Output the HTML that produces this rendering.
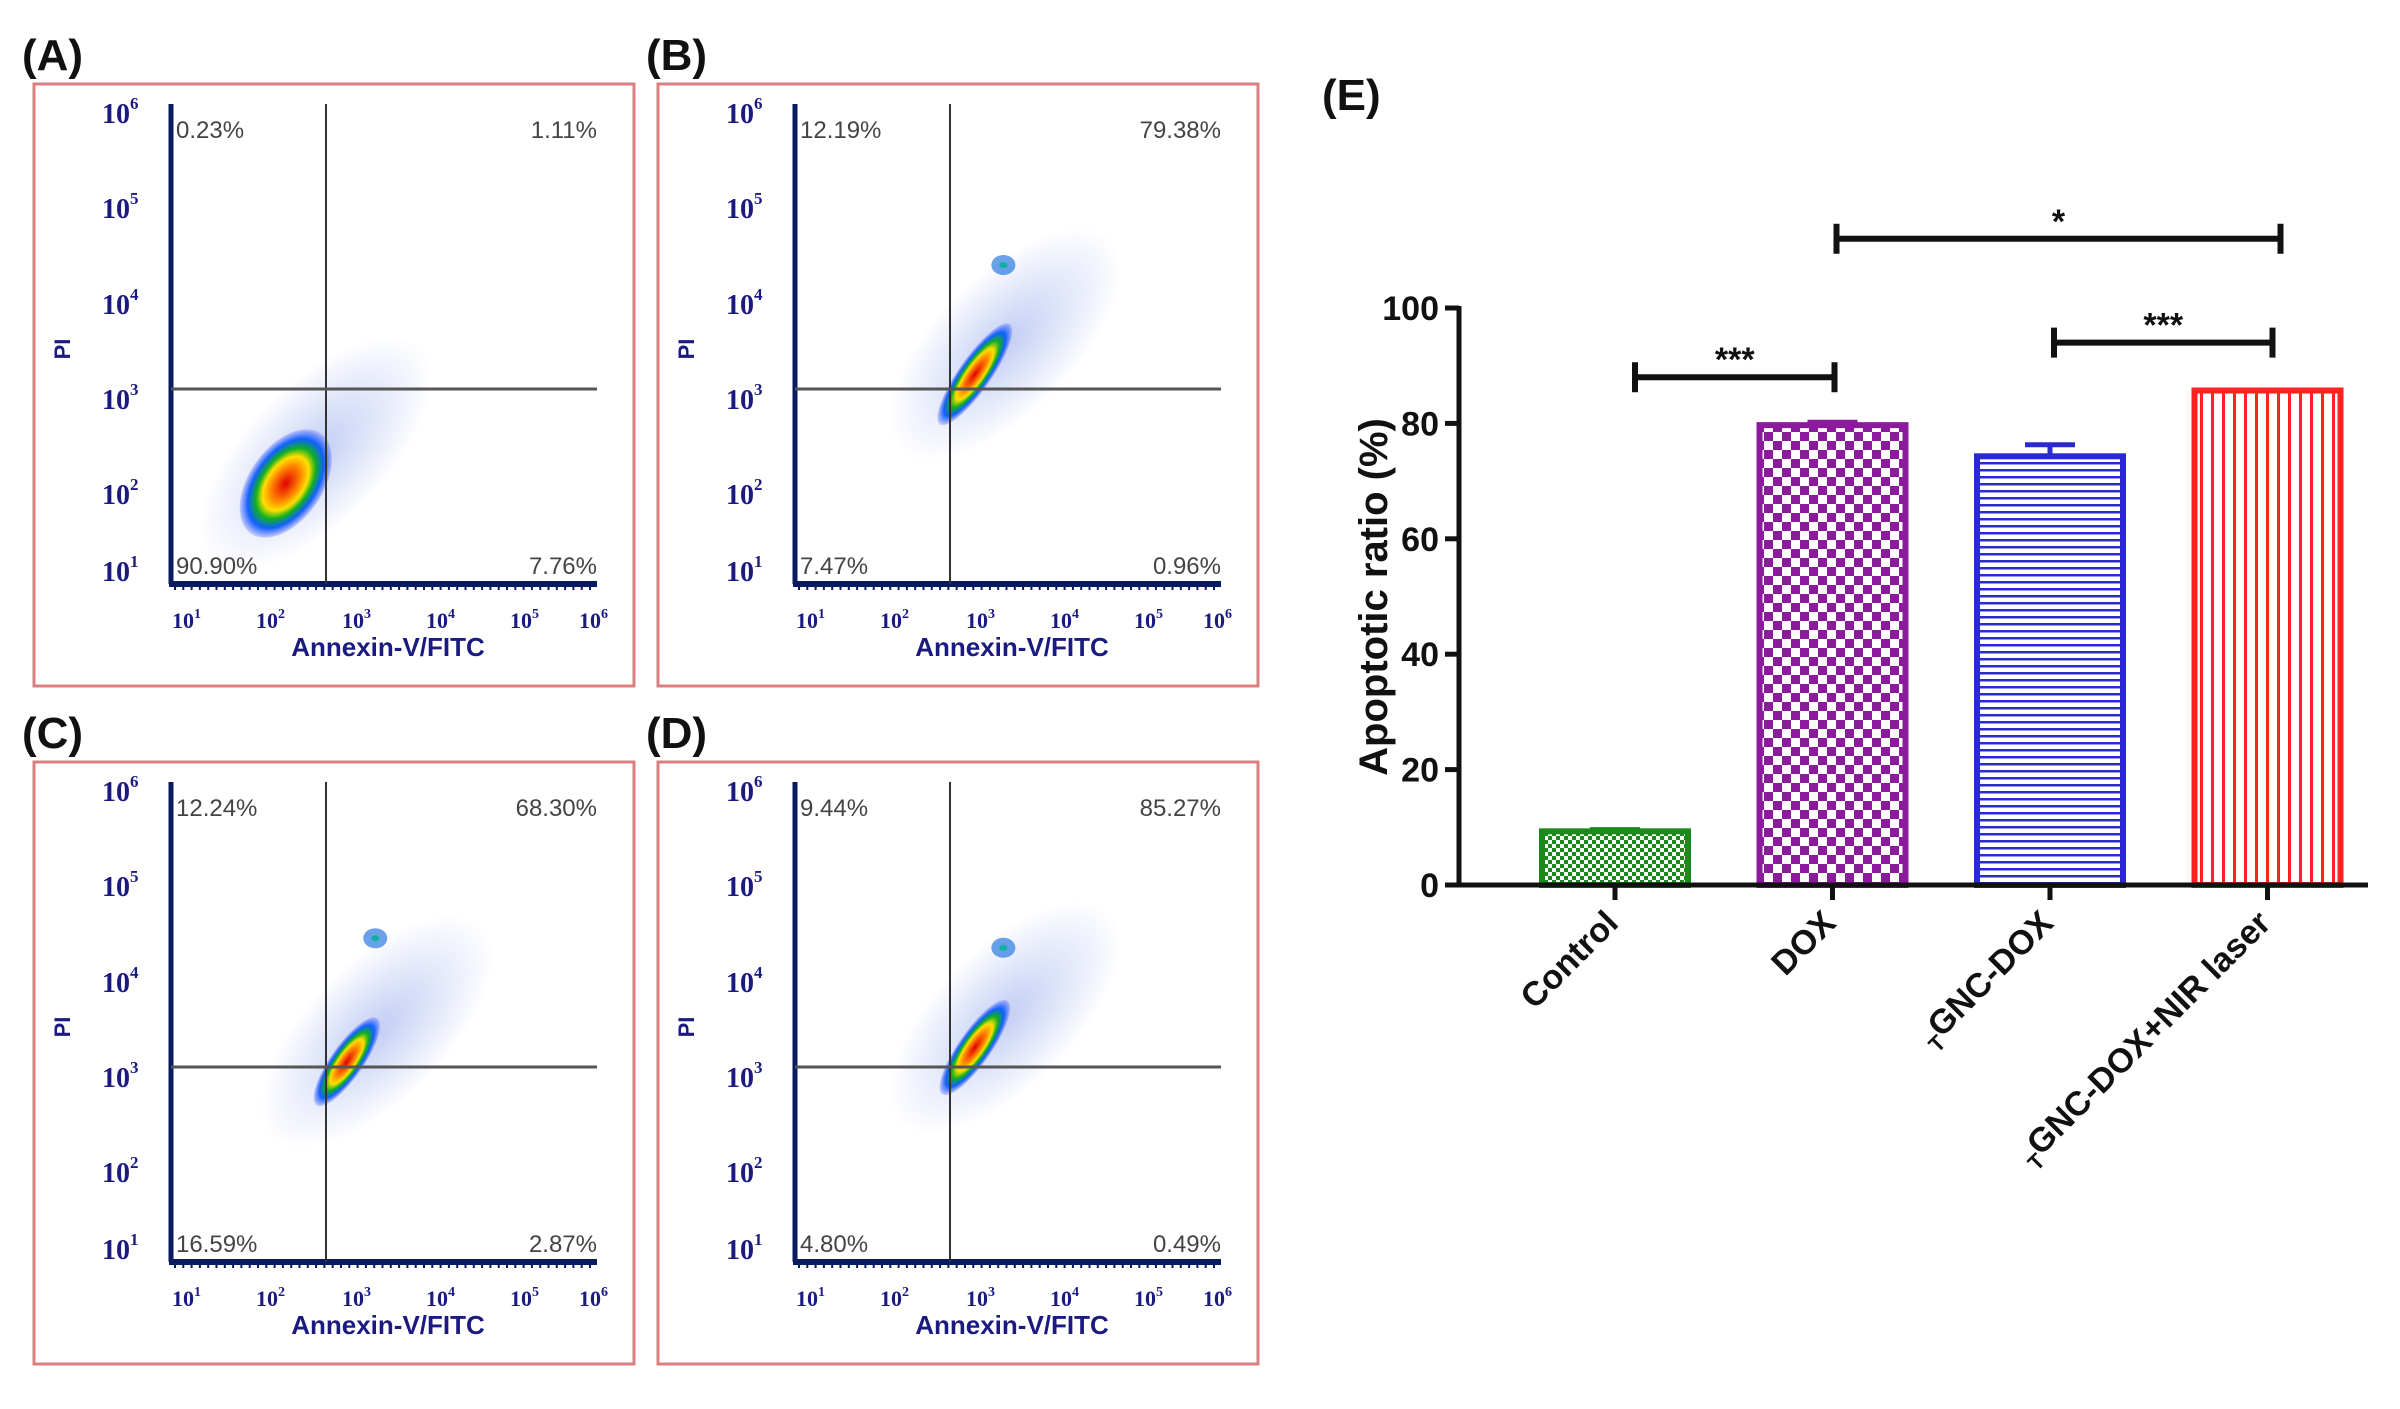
<!DOCTYPE html>
<html><head><meta charset="utf-8">
<style>
html,body{margin:0;padding:0;background:#fff;}
svg{display:block;font-family:"Liberation Sans",sans-serif;}
</style></head>
<body>
<svg id="fig" width="2400" height="1409" viewBox="0 0 2400 1409" xmlns="http://www.w3.org/2000/svg">
<defs>
  <pattern id="pGreen" width="8" height="8" patternUnits="userSpaceOnUse">
    <rect width="8" height="8" fill="#fff"/><rect width="4" height="4" fill="#1a8a1a"/><rect x="4" y="4" width="4" height="4" fill="#1a8a1a"/>
  </pattern>
  <pattern id="pPurple" width="18" height="18" patternUnits="userSpaceOnUse">
    <rect width="18" height="18" fill="#fff"/><rect width="9" height="9" fill="#8b1a9c"/><rect x="9" y="9" width="9" height="9" fill="#8b1a9c"/>
  </pattern>
  <pattern id="pBlue" width="8" height="7" patternUnits="userSpaceOnUse">
    <rect width="8" height="7" fill="#fff"/><rect y="0" width="8" height="2.5" fill="#2a2ad0"/>
  </pattern>
  <pattern id="pRed" width="11" height="8" patternUnits="userSpaceOnUse">
    <rect width="11" height="8" fill="#fff"/><rect x="0" width="3" height="8" fill="#ff2020"/>
  </pattern>
  <radialGradient id="dens">
    <stop offset="0" stop-color="#e00000"/>
    <stop offset="0.3" stop-color="#ff7a00"/>
    <stop offset="0.5" stop-color="#ffe000"/>
    <stop offset="0.65" stop-color="#10b020"/>
    <stop offset="0.82" stop-color="#1060ff"/>
    <stop offset="1" stop-color="#3050ff" stop-opacity="0.2"/>
  </radialGradient>
  <radialGradient id="halo">
    <stop offset="0" stop-color="#5070e0" stop-opacity="0.35"/>
    <stop offset="1" stop-color="#5070e0" stop-opacity="0"/>
  </radialGradient>
</defs>
<g id="flow"></g>
<g id="bar"></g>
</svg>
<script>
// ---------- Flow panels data ----------
const panelNames = ["A","B","C","D"];
const quadUL = ["0.23%","12.19%","12.24%","9.44%"];
const quadUR = ["1.11%","79.38%","68.30%","85.27%"];
const quadLL = ["90.90%","7.47%","16.59%","4.80%"];
const quadLR = ["7.76%","0.96%","2.87%","0.49%"];
// main cluster: log10 x, log10 y, length, width (decades), angle
const clusterX = [2.25, 3.05, 3.0, 3.05];
const clusterY = [2.1, 3.25, 3.15, 3.3];
const clusterLen = [0.75, 0.75, 0.65, 0.7];
const clusterWid = [0.45, 0.2, 0.2, 0.2];
// secondary cluster
const sub2X = [null, 3.4, 3.35, 3.4];
const sub2Y = [null, 4.4, 4.45, 4.35];

const NS="http://www.w3.org/2000/svg";
function mk(tag, attrs, parent){const e=document.createElementNS(NS,tag);for(const k in attrs)e.setAttribute(k,attrs[k]);parent.appendChild(e);return e;}
const flow=document.getElementById('flow');
const offX=[0,624,0,624], offY=[0,0,678,678];
function fx(l){return 184+(l-1)*81.4;}
function fy(l){return 398-(l-3)*95;}
panelNames.forEach((nm,i)=>{
  const g=mk('g',{transform:`translate(${offX[i]},${offY[i]})`},flow);
  
  
  const lab=mk('text',{x:22,y:70,'font-size':44,'font-weight':'bold',fill:'#111'},g);lab.textContent='('+nm+')';
  
  
  const box=mk('rect',{x:34,y:84,width:600,height:602,fill:'#fff',stroke:'#d98080','stroke-width':3},g);
  
  
  const cx=fx(clusterX[i]), cy=fy(clusterY[i]);
  mk('ellipse',{cx:cx+30,cy:cy-30,rx:150,ry:70,transform:`rotate(-45 ${cx+30} ${cy-30})`,fill:'url(#halo)'},g);
  const cl=mk('ellipse',{cx:cx,cy:cy,rx:clusterLen[i]*81.4,ry:clusterWid[i]*81.4,transform:`rotate(-55 ${cx} ${cy})`,fill:'url(#dens)'},g);
  
  
  if(sub2X[i]!==null){
    const sx=fx(sub2X[i]), sy=fy(sub2Y[i]);
    mk('ellipse',{cx:sx,cy:sy,rx:12,ry:10,fill:'#2a7ae0','fill-opacity':0.7},g);
    mk('ellipse',{cx:sx,cy:sy,rx:4,ry:3,fill:'#10b0a0'},g);
  }
  mk('line',{x1:171,y1:104,x2:171,y2:584,stroke:'#0a1a60','stroke-width':5},g);
  mk('line',{x1:169,y1:584,x2:597,y2:584,stroke:'#0a1a60','stroke-width':6},g);
  for(let k=0;k<=50;k++){mk('line',{x1:175+k*8.3,y1:584,x2:175+k*8.3,y2:590,stroke:'#0a1a60','stroke-width':2},g);}
  mk('line',{x1:326,y1:104,x2:326,y2:584,stroke:'#333','stroke-width':2},g);
  mk('line',{x1:171,y1:389,x2:597,y2:389,stroke:'#555','stroke-width':3},g);
  const yl=[112,207,303,398,493,570];
  [6,5,4,3,2,1].forEach((p,j)=>{
    const t=mk('text',{x:102,y:yl[j]+11,'font-size':28,'font-weight':'bold',fill:'#1a1a80','font-family':'Liberation Serif,serif'},g);
    t.textContent='10';
    const s=mk('tspan',{dy:-14,'font-size':17},t);s.textContent=p;
  });
  const xl=[184,268,354,438,522,591];
  [1,2,3,4,5,6].forEach((p,j)=>{
    const t=mk('text',{x:xl[j]-12,y:628,'font-size':22,'font-weight':'bold',fill:'#1a1a80','font-family':'Liberation Serif,serif'},g);
    t.textContent='10';
    const s=mk('tspan',{dy:-10,'font-size':14},t);s.textContent=p;
  });
  const xt=mk('text',{x:388,y:656,'font-size':26,'font-weight':'bold',fill:'#1a1a80','text-anchor':'middle'},g);xt.textContent='Annexin-V/FITC';
  
  
  const yt=mk('text',{x:0,y:0,'font-size':22,'font-weight':'bold',fill:'#1a1a80','text-anchor':'middle',transform:'translate(70,349) rotate(-90)'},g);yt.textContent='PI';
  
  
  const q=[[176,138,'start',quadUL[i]],[597,138,'end',quadUR[i]],[176,574,'start',quadLL[i]],[597,574,'end',quadLR[i]]];
  q.forEach(a=>{const t=mk('text',{x:a[0],y:a[1],'font-size':24,fill:'#444','text-anchor':a[2]},g);t.textContent=a[3];
    
    });
});

// ---------- Bar chart (E) ----------
const categories = ["Control","DOX","TGNC-DOX","TGNC-DOX+NIR laser"];
const values = [9.3, 79.7, 74.3, 85.7];
const errors = [0.3, 0.5, 2.0, 0.0];
const yTicks = [0,20,40,60,80,100];
const sigLabels = ["***","*","***"];
const sigFrom = [0,1,2];
const sigTo = [1,3,3];
const sigLevel = [88,112,94];

const bar=document.getElementById('bar');
const fills=['url(#pGreen)','url(#pPurple)','url(#pBlue)','url(#pRed)'];
const strokes=['#1a8a1a','#8b1a9c','#2a2ad0','#ff2020'];
const x0=1459, xEnd=2368, bw=146, slot=217.5, firstC=1615;
function yS(v){return 885-v*5.77;}
function xS(i){return firstC+i*slot;}
const el=mk('text',{x:1322,y:110,'font-size':44,'font-weight':'bold',fill:'#111'},bar);el.textContent='(E)';


values.forEach((v,i)=>{
  const r=mk('rect',{x:xS(i)-bw/2,y:yS(v),width:bw,height:yS(0)-yS(v),fill:fills[i],stroke:strokes[i],'stroke-width':6},bar);
  
  
  if(errors[i]>0){
    mk('line',{x1:xS(i),y1:yS(v),x2:xS(i),y2:yS(v+errors[i]),stroke:strokes[i],'stroke-width':5},bar);
    mk('line',{x1:xS(i)-25,y1:yS(v+errors[i]),x2:xS(i)+25,y2:yS(v+errors[i]),stroke:strokes[i],'stroke-width':5},bar);
  }
  mk('line',{x1:xS(i),y1:885,x2:xS(i),y2:900,stroke:'#111','stroke-width':5},bar);
  const lab=categories[i];
  const t=mk('text',{x:0,y:0,'font-size':34,'font-weight':'bold',fill:'#111','text-anchor':'end',transform:`translate(${xS(i)+5},${925}) rotate(-45)`},bar);
  if(lab.startsWith('TGNC')){const s=mk('tspan',{'font-size':22,dy:8},t);s.textContent='T';const s2=mk('tspan',{dy:-8},t);s2.textContent=lab.slice(1);}
  else t.textContent=lab;
  
  
});
mk('line',{x1:x0,y1:yS(0),x2:xEnd,y2:yS(0),stroke:'#111','stroke-width':5},bar);
mk('line',{x1:x0,y1:yS(0)+2,x2:x0,y2:yS(100)-2,stroke:'#111','stroke-width':5},bar);
yTicks.forEach(v=>{
  mk('line',{x1:x0-14,y1:yS(v),x2:x0,y2:yS(v),stroke:'#111','stroke-width':5},bar);
  const t=mk('text',{x:x0-20,y:yS(v)+12,'font-size':34,'font-weight':'bold',fill:'#111','text-anchor':'end'},bar);t.textContent=v;
  
  
});
const yt=mk('text',{x:0,y:0,'font-size':40,'font-weight':'bold',fill:'#111','text-anchor':'middle',transform:'translate(1387,597) rotate(-90)'},bar);yt.textContent='Apoptotic ratio (%)';


const leftAdj=[20,4,4], rightAdj=[2,13,5];
sigLabels.forEach((s,k)=>{
  const aa=xS(sigFrom[k])+leftAdj[k], b=xS(sigTo[k])+rightAdj[k], y=yS(sigLevel[k]);
  mk('line',{x1:aa,y1:y,x2:b,y2:y,stroke:'#111','stroke-width':6},bar);
  mk('line',{x1:aa,y1:y-15,x2:aa,y2:y+15,stroke:'#111','stroke-width':6},bar);
  mk('line',{x1:b,y1:y-15,x2:b,y2:y+15,stroke:'#111','stroke-width':6},bar);
  const t=mk('text',{x:(aa+b)/2,y:y-6,'font-size':34,'font-weight':'bold',fill:'#111','text-anchor':'middle'},bar);t.textContent=s;
  
  
});
</script>
</body></html>
